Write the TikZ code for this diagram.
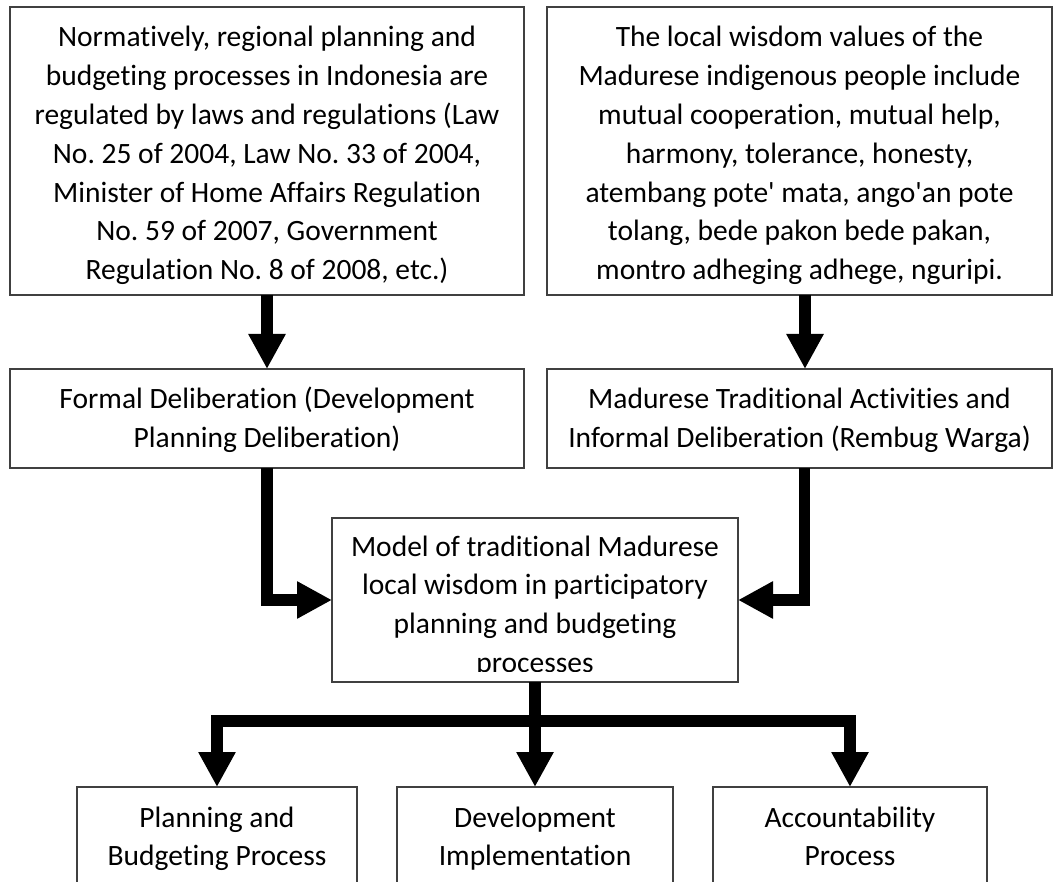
\documentclass[tikz,border=0pt]{standalone}
\usepackage{fontspec}
\setmainfont{Carlito}[Ligatures={NoCommon}]
\usetikzlibrary{arrows.meta}
\frenchspacing
\newcommand\boxtext[4]{\parbox[c][#2][t]{#1}{\centering\rule{0pt}{#3}#4}}
\begin{document}
\begin{tikzpicture}[x=1pt,y=-1pt,
  box/.style={draw=black!75, line width=1.2pt, inner sep=0pt, outer sep=0pt, fill=none},
  nobox/.style={inner sep=0pt, outer sep=0pt},
  flow/.style={line width=11.5pt, black, line join=miter,
    -{Triangle[width=35pt,length=35pt]}},
  every node/.style={font=\fontsize{29.5}{38.8}\selectfont}]
\useasboundingbox (0,0) rectangle (1053,882);
\clip (0,0) rectangle (1053,882);

\node[box] (A) at (267,151) {\boxtext{514pt}{288pt}{40pt}{Normatively, regional planning and\\
budgeting processes in Indonesia are\\
regulated by laws and regulations (Law\\
No. 25 of 2004, Law No. 33 of 2004,\\
Minister of Home Affairs Regulation\\
No. 59 of 2007, Government\\
Regulation No. 8 of 2008, etc.)}};

\node[box] (B) at (799.5,151) {\boxtext{505pt}{288pt}{40pt}{The local wisdom values of the\\
Madurese indigenous people include\\
mutual cooperation, mutual help,\\
harmony, tolerance, honesty,\\
atembang pote\textquotesingle{} mata, ango\textquotesingle an pote\\
tolang, bede pakon bede pakan,\\
montro adheging adhege, nguripi.}};

\node[box] (C) at (267,418.5) {\boxtext{514pt}{99pt}{40pt}{Formal Deliberation (Development\\
Planning Deliberation)}};

\node[box] (D) at (799.5,418.5) {\boxtext{505pt}{99pt}{40pt}{Madurese Traditional Activities and\\
Informal Deliberation (Rembug Warga)}};

\begin{scope}
\clip (300,500) rectangle (760,671.5);
\node[nobox] (E) at (535,600) {\boxtext{406pt}{164pt}{38pt}{Model of traditional Madurese\\
local wisdom in participatory\\
planning and budgeting\\
processes}};
\end{scope}
\draw[draw=black!75, line width=1.2pt] (E.north west) rectangle (E.south east);

\node[box] (F) at (217,836.5) {\boxtext{280pt}{99pt}{40pt}{Planning and\\
Budgeting Process}};
\node[box] (G) at (535,836.5) {\boxtext{276pt}{99pt}{40pt}{Development\\
Implementation}};
\node[box] (H) at (850,836.5) {\boxtext{274pt}{99pt}{40pt}{Accountability\\
Process}};

\draw[flow] (A.south) -- (C.north);
\draw[flow] ([xshift=5.5pt]B.south) -- ([xshift=5.5pt]D.north);
\draw[flow] (C.south) |- (E.west);
\draw[flow] ([xshift=5pt]D.south) |- (E.east);
\draw[flow] (E.south) -- (G.north);
\draw[flow] (E.south) -- ++(0,39) -| (F.north);
\draw[flow] (E.south) -- ++(0,39) -| (H.north);
\end{tikzpicture}
\end{document}
